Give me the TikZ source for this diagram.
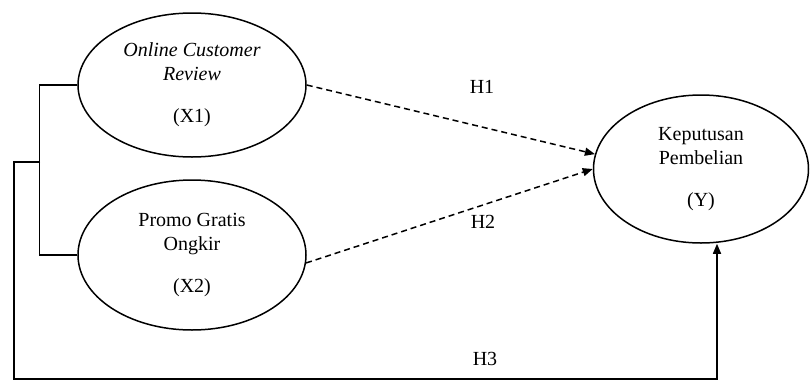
\documentclass[tikz,border=0pt]{standalone}
\usepackage{fontspec}
\setmainfont{Liberation Serif}
\usepackage{tikz}
\usetikzlibrary{positioning}
\usetikzlibrary{shapes.geometric}
\usetikzlibrary{arrows.meta}

\begin{document}
\begin{tikzpicture}[x=0.5pt, y=-0.5pt,
  var/.style={ellipse, draw=black, line width=0.75pt, inner sep=0pt, align=center, font=\fontsize{10}{12}\selectfont},
  hyp/.style={font=\fontsize{10}{12}\selectfont, inner sep=0pt},
  link/.style={line width=0.75pt, color=black},
  tip/.style={-{Triangle[length=5pt, width=4pt]}},
  guess/.style={dash pattern=on 3pt off 2pt}]
\useasboundingbox (0,0) rectangle (810,381);
\node (x1) [var, minimum width=114pt, minimum height=72pt] at (192, 85) {\textit{Online Customer}\\ \textit{Review}\\[9pt] (X1)};
\node (x2) [var, minimum width=114pt, minimum height=75pt] at (192, 255) {Promo Gratis\\ Ongkir\\[9pt] (X2)};
\node (y) [var, minimum width=107.5pt, minimum height=74pt] at (701, 169) {Keputusan\\ Pembelian\\[9pt] (Y)};
\node (h1) [hyp] at (482, 87) {H1};
\node (h2) [hyp] at (483, 222) {H2};
\node (h3) [hyp] at (485, 359) {H3};
\coordinate (jn) at (40, 162);
\coordinate (bl) at (14, 379);
\coordinate (br) at (717, 379);
\draw [link, guess, tip] (x1.east) to (y.172);
\draw [link, guess, tip] (x2.-4) to (y.west);
\draw [link] (x1.west) -- ++(-38, 0) |- (x2.west);
\draw [link, tip] (jn) -| (bl) -- (br) -- (br |- y.south);
\end{tikzpicture}
\end{document}
